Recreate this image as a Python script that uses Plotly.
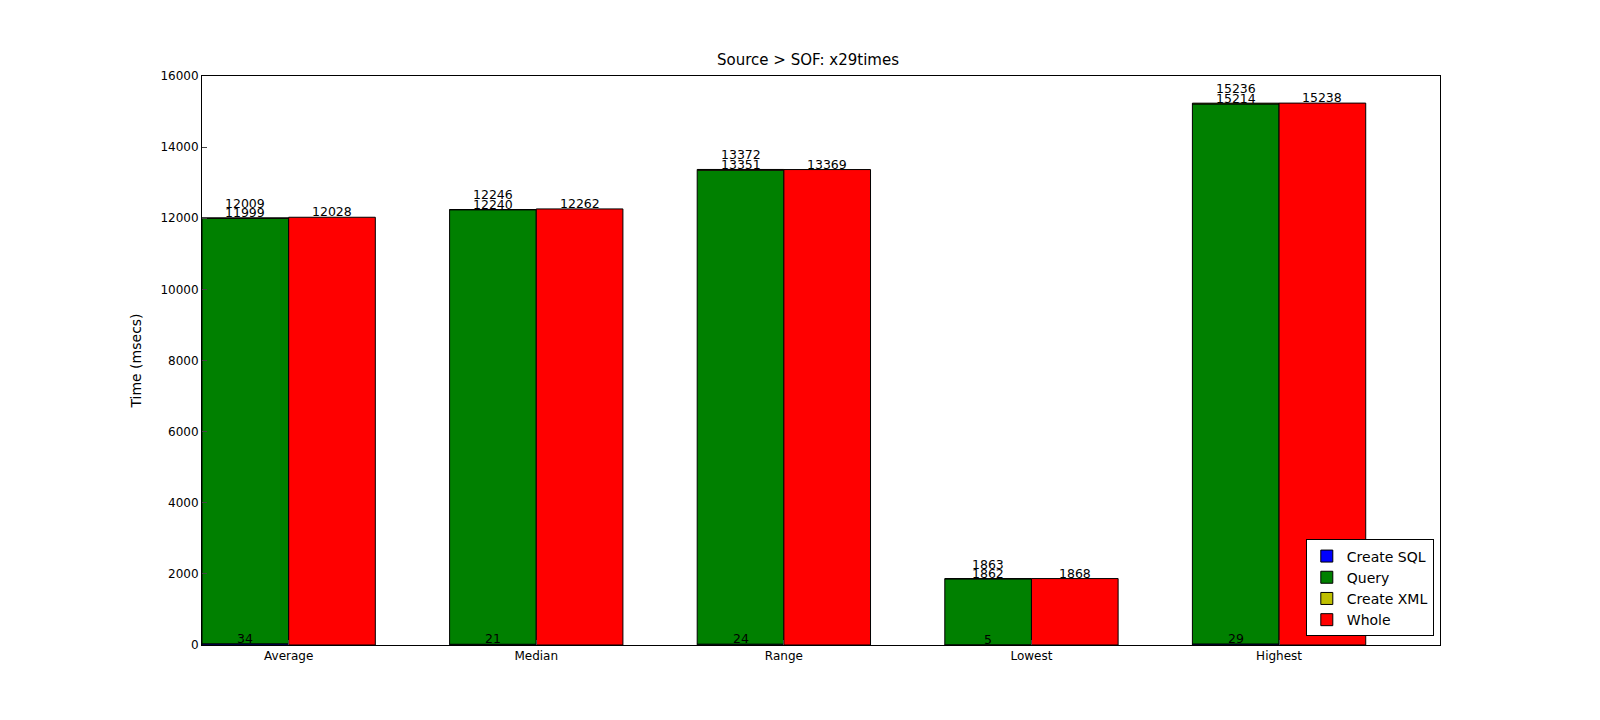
import plotly.graph_objects as go

categories = ["Average", "Median", "Range", "Lowest", "Highest"]
create_sql = [34, 21, 24, 5, 29]
query_top = [11999, 12240, 13351, 1862, 15214]
create_xml_top = [12009, 12246, 13372, 1863, 15236]
whole = [12028, 12262, 13369, 1868, 15238]

w = 0.35
xg = [i + w / 2 for i in range(len(categories))]
xr = [i + 1.5 * w for i in range(len(categories))]
line = dict(color="black", width=1)

fig = go.Figure()
fig.add_trace(go.Bar(x=xg, y=create_sql, width=w, name="Create SQL",
                     marker=dict(color="#0000ff", line=line)))
fig.add_trace(go.Bar(x=xg, y=[q - s for q, s in zip(query_top, create_sql)], base=create_sql,
                     width=w, name="Query", marker=dict(color="#008000", line=line)))
fig.add_trace(go.Bar(x=xg, y=[c - q for c, q in zip(create_xml_top, query_top)], base=query_top,
                     width=w, name="Create XML", marker=dict(color="#bfbf00", line=line)))
fig.add_trace(go.Bar(x=xr, y=whole, width=w, name="Whole",
                     marker=dict(color="#ff0000", line=line)))

ann = []
for i in range(len(categories)):
    for xv, yv, lab in [(xg[i], create_sql[i], create_sql[i]),
                        (xg[i], query_top[i], query_top[i]),
                        (xg[i], create_xml_top[i] + 260, create_xml_top[i]),
                        (xr[i], whole[i], whole[i])]:
        ann.append(dict(x=xv, y=yv, text=str(lab), showarrow=False, yanchor="bottom",
                        yshift=-4, font=dict(size=12.5, color="black")))

fig.update_layout(
    width=1600, height=720, barmode="overlay", plot_bgcolor="white", paper_bgcolor="white",
    font=dict(family="DejaVu Sans", size=12, color="black"),
    title=dict(text="Source > SOF: x29times", x=0.5, y=0.935, font=dict(size=15)),
    margin=dict(l=194, r=168, t=68, b=83),
    annotations=ann,
    legend=dict(x=0.995, y=0.015, xanchor="right", yanchor="bottom", bordercolor="black",
                borderwidth=1, font=dict(size=14)),
    xaxis=dict(range=[0, 5], tickvals=[i + w for i in range(5)], ticktext=categories,
               showline=True, mirror=True, linecolor="black", ticks="inside", showgrid=False),
    yaxis=dict(range=[0, 16000], dtick=2000, tickformat="d", title="Time (msecs)", showline=True,
               mirror=True, linecolor="black", ticks="inside", showgrid=False, zeroline=False),
)
fig.write_html("out.html")
